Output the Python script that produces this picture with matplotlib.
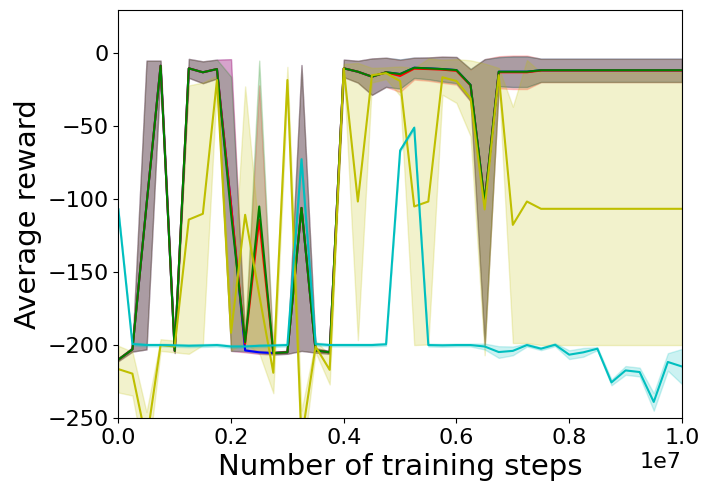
import numpy as np
import matplotlib
matplotlib.use("Agg")
import matplotlib.pyplot as plt

# training steps: one evaluation every 250k steps
steps = np.arange(41) * 250000

# blue / red / green runs are nearly identical
green_mean = [-210, -203, -104, -8.5, -204, -10.3, -13, -10.8, -110, -198,
              -105, -205.5, -205, -106, -203.7, -205, -10.3, -12.6, -16, -13,
              -14.2, -9.9, -10.3, -10.8, -11.5, -21.7, -102, -12.6, -12.6, -12.6,
              -11.6, -11.6, -11.6, -11.6, -11.6, -11.6, -11.6, -11.6, -11.6, -11.6, -11.6]
green_std = [1, 1.5, 99, 3.5, 1.5, 6.5, 7.5, 6.5, 94, 6,
             100, 1, 1, 98, 1.5, 1, 6, 7.5, 12.5, 10,
             10, 7, 7.5, 8.5, 9, 11, 98, 10, 10.5, 10.5,
             8, 8, 8, 8, 8, 8, 8, 8, 8, 8, 8]

red_mean = [-210, -203, -104, -8.5, -204, -10.3, -13, -10.8, -104, -199,
            -114, -205.5, -205, -106, -203.7, -205, -10.3, -12.6, -16, -13,
            -15.5, -10.5, -10.8, -11.2, -12, -22, -102, -13, -13, -13,
            -11.8, -11.8, -11.8, -11.8, -11.8, -11.8, -11.8, -11.8, -11.8, -11.8, -11.8]
red_std = [1, 1.5, 99, 3.5, 1.5, 6.5, 7.5, 6.5, 100, 6,
           92, 1, 1, 98, 1.5, 1, 6, 7.5, 12.5, 10,
           11, 7.5, 8, 9, 9.5, 11, 98, 11, 11.5, 11.5,
           8, 8, 8, 8, 8, 8, 8, 8, 8, 8, 8]

blue_mean = [-210, -203, -104, -8.5, -204, -10.3, -13, -10.8, -104, -203.7,
             -205, -205.5, -205, -106, -203.7, -205, -10.3, -12.6, -16, -13,
             -14.2, -9.9, -10.3, -10.8, -11.5, -21.7, -102, -12.6, -12.6, -12.6,
             -11.6, -11.6, -11.6, -11.6, -11.6, -11.6, -11.6, -11.6, -11.6, -11.6, -11.6]
blue_std = [1, 1.5, 99, 3.5, 1.5, 6.5, 7.5, 6.5, 100, 1,
            1, 1, 1, 98, 1.5, 1, 6, 7.5, 12.5, 10,
            10, 7, 7.5, 8.5, 9, 11, 98, 10, 10.5, 10.5,
            8, 8, 8, 8, 8, 8, 8, 8, 8, 8, 8]

yellow_mean = [-216.5, -219.6, -266, -200, -201, -114, -110, -18.3, -191.6, -110.7,
               -165.6, -219, -18.3, -265, -201, -217, -10.3, -101.6, -15, -13.6,
               -19, -105, -101.6, -16.4, -19, -30.8, -107, -15, -117.6, -101.6,
               -106.6, -106.6, -106.6, -106.6, -106.6, -106.6, -106.6, -106.6, -106.6, -106.6, -106.6]
yellow_std = [16, 15, 20, 4, 4, 92, 90, 3, 12, 88,
              40, 14, 9, 20, 4, 10, 3, 95, 5, 4,
              10, 95, 98, 12, 15, 26, 100, 5, 81, 97,
              93.4, 93.4, 93.4, 93.4, 93.4, 93.4, 93.4, 93.4, 93.4, 93.4, 93.4]

cyan_mean = [-107, -199.3, -200, -200, -200.2, -200.5, -200.3, -200, -201, -201,
             -200.5, -200.3, -200, -72.6, -199.3, -200, -200, -200, -200, -199.5,
             -66.6, -51, -200, -200.2, -200, -200, -201, -204.8, -204, -200,
             -202.5, -199.8, -206.6, -205, -202.5, -225.6, -217.4, -218.5, -239, -211.6, -214.7]
cyan_std = [1, 1, 1, 1, 1, 1, 1, 1, 1, 1,
            1, 1, 1, 1, 1, 1, 1, 1, 1, 1,
            1, 1, 1, 1, 1, 1, 2, 4, 3, 1,
            1, 1, 3, 3, 1, 2, 3, 3, 6, 6, 12]

runs = [
    ("b", blue_mean, blue_std),
    ("r", red_mean, red_std),
    ("g", green_mean, green_std),
    ("y", yellow_mean, yellow_std),
    ("c", cyan_mean, cyan_std),
]

fig = plt.figure(figsize=(7.09, 4.95), dpi=100)
ax = fig.add_axes([0.1669, 0.1556, 0.7949, 0.8236])

for color, mean, std in runs:
    mean = np.array(mean)
    std = np.array(std)
    ax.plot(steps, mean, color=color, linewidth=1.5)
    ax.fill_between(steps, mean - std, mean + std, color=color, alpha=0.2)

ax.set_xlim(0, 1e7)
ax.set_ylim(-250, 29.5)
ax.set_xlabel("Number of training steps", fontsize=21)
ax.set_ylabel("Average reward", fontsize=21)
ax.tick_params(labelsize=16)
ax.xaxis.get_offset_text().set_fontsize(16)

fig.savefig("out.png", dpi=100)
